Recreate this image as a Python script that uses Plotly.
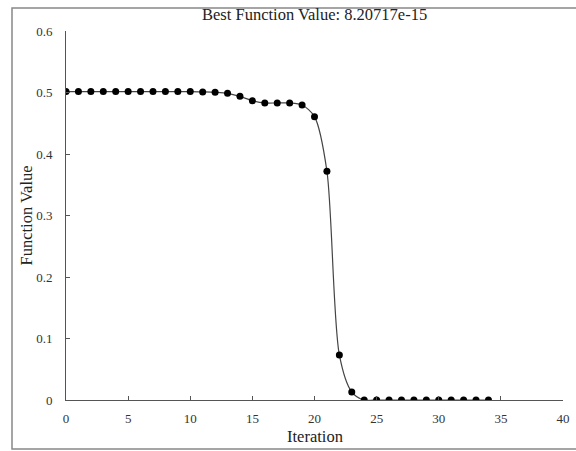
import plotly.graph_objects as go

iterations = list(range(0, 35))
values = [0.5015, 0.5015, 0.5015, 0.5015, 0.5015, 0.5015, 0.5015, 0.5015, 0.5015, 0.5015,
          0.5015, 0.5010, 0.5003, 0.4987, 0.4938, 0.4867, 0.4830, 0.4830, 0.4830, 0.4797,
          0.4607, 0.3720, 0.0732, 0.0130, 0.0, 0.0, 0.0, 0.0, 0.0, 0.0,
          0.0, 0.0, 0.0, 0.0, 0.0]
x_ticks = [0, 5, 10, 15, 20, 25, 30, 35, 40]
y_ticks = [0, 0.1, 0.2, 0.3, 0.4, 0.5, 0.6]
y_tick_text = ["0", "0.1", "0.2", "0.3", "0.4", "0.5", "0.6"]
title_text = "Best Function Value: 8.20717e-15"
x_title = "Iteration"
y_title = "Function Value"

font_family = "Liberation Serif"

fig = go.Figure()
fig.add_trace(go.Scatter(
    x=iterations, y=values, mode="lines+markers",
    line=dict(color="#444444", width=1.2, shape="spline", smoothing=0.8),
    marker=dict(color="black", size=7),
    showlegend=False,
))

W, H = 576, 451
ml, mr, mt, mb = 66, 13, 31, 51
pw, ph = W - ml - mr, H - mt - mb

axis_common = dict(showgrid=False, zeroline=False, showline=True, linecolor="#555555",
                   linewidth=1, ticks="inside", ticklen=4, tickcolor="#555555",
                   automargin=False,
                   tickfont=dict(family=font_family, size=13, color="#333333"))

fig.update_layout(
    width=W, height=H,
    margin=dict(l=ml, r=mr, t=mt, b=mb),
    paper_bgcolor="white", plot_bgcolor="white",
    font=dict(family=font_family, size=13, color="#333333"),
    xaxis=dict(range=[0, 40], tickvals=x_ticks, ticklabelstandoff=6, **axis_common),
    yaxis=dict(range=[0, 0.6], tickvals=y_ticks, ticktext=y_tick_text,
               ticklabelstandoff=10, **axis_common),
)

# title and axis titles
fig.add_annotation(text=title_text, xref="paper", yref="paper",
                   x=0.5, y=1 + (mt - 15) / ph, xanchor="center", yanchor="middle",
                   showarrow=False, font=dict(family=font_family, size=16.5, color="#222222"))
fig.add_annotation(text=x_title, xref="paper", yref="paper",
                   x=0.5, y=-(436 - (mt + ph)) / ph, xanchor="center", yanchor="middle",
                   showarrow=False, font=dict(family=font_family, size=16.5, color="#222222"))
fig.add_annotation(text=y_title, xref="paper", yref="paper", textangle=-90,
                   x=(26 - ml) / pw, y=0.5, xanchor="center", yanchor="middle",
                   showarrow=False, font=dict(family=font_family, size=16.5, color="#222222"))

# outer chart border
fig.add_shape(type="rect", xref="paper", yref="paper",
              x0=(12 - ml) / pw, x1=(590 - ml) / pw,
              y0=-(449 - (mt + ph)) / ph, y1=1 + (mt - 8) / ph,
              line=dict(color="#888888", width=1.5), layer="below")

fig.write_html("out.html", config={"displayModeBar": False},
               post_script="document.body.style.margin='0';document.body.style.overflow='hidden';")
